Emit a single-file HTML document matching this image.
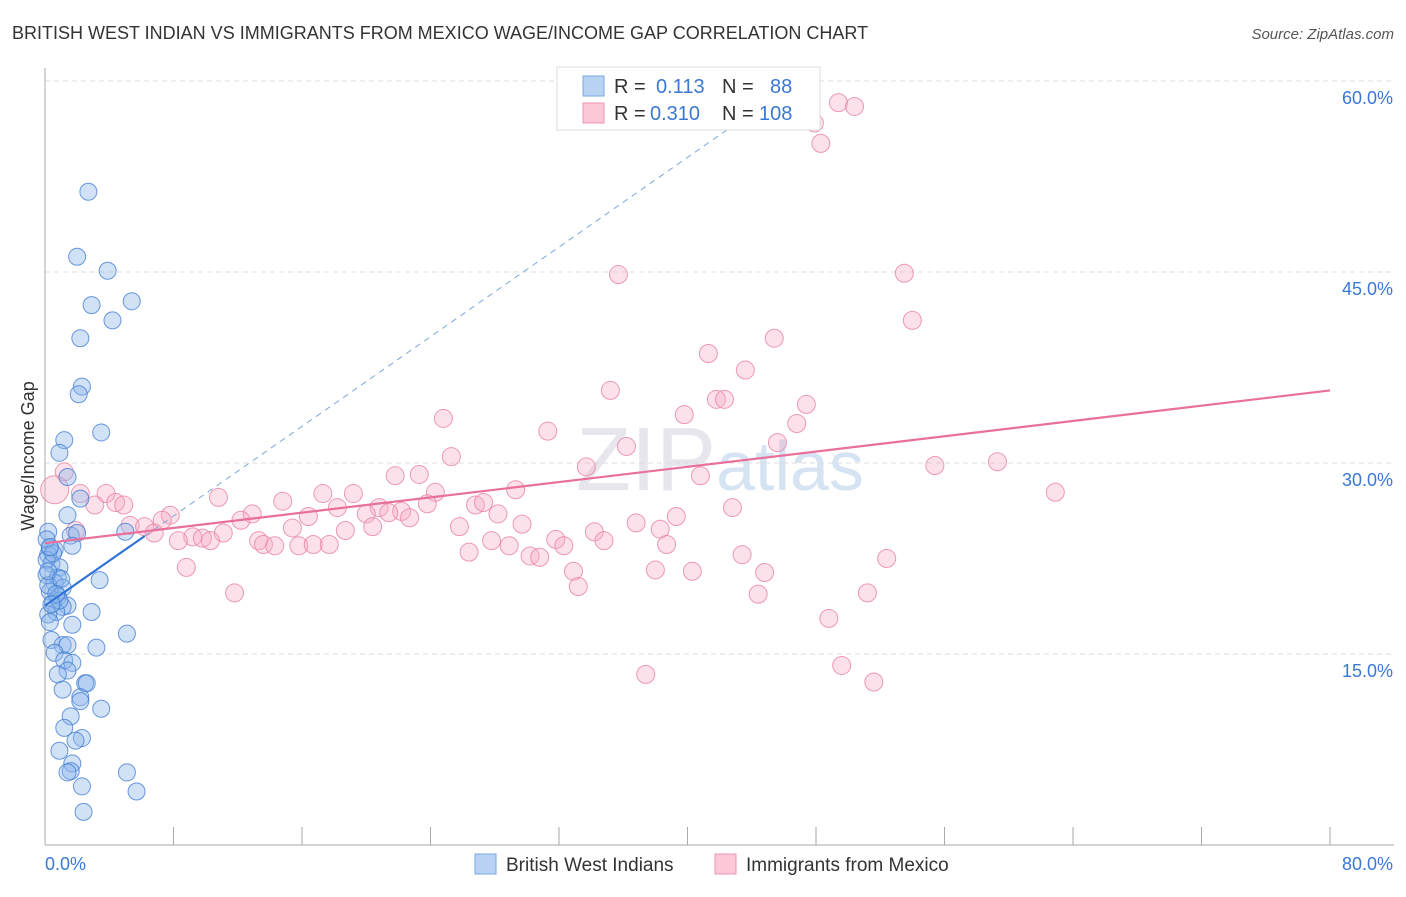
<!DOCTYPE html>
<html><head><meta charset="utf-8"><style>
body{margin:0;background:#fff;font-family:"Liberation Sans",sans-serif;}
svg text{font-family:"Liberation Sans",sans-serif;}
</style></head><body>
<svg id="chart" width="1406" height="892" viewBox="0 0 1406 892" xmlns="http://www.w3.org/2000/svg">
<rect width="1406" height="892" fill="#fff"/>
<text x="12" y="39" font-size="18" fill="#333">BRITISH WEST INDIAN VS IMMIGRANTS FROM MEXICO WAGE/INCOME GAP CORRELATION CHART</text>
<text x="1394" y="39" font-size="15" fill="#555" text-anchor="end" font-style="italic">Source: ZipAtlas.com</text>
<text x="720" y="490" font-size="90" fill="#e6e6ec" text-anchor="middle" font-family="Liberation Serif">ZIP<tspan fill="#d5e3f3" font-family="Liberation Sans" font-size="70">atlas</tspan></text>
<g id="grid"></g>
<g id="axes"></g>
<g id="points"></g>
<g id="lines"></g>
<text transform="translate(34,456) rotate(-90)" font-size="18" fill="#333" text-anchor="middle">Wage/Income Gap</text>
<g>
<rect x="557" y="67" width="263" height="63" fill="#fff" stroke="#ddd"/>
<rect x="583" y="76" width="21" height="20" fill="#b9d3f5" stroke="#7aa7e0"/>
<rect x="583" y="103" width="21" height="20" fill="#fcc8d8" stroke="#ee94b0"/>
<text x="614" y="93" font-size="20" fill="#333">R = </text><text x="656" y="93" font-size="20" fill="#3a78d4">0.113</text>
<text x="722" y="93" font-size="20" fill="#333">N = </text><text x="770" y="93" font-size="20" fill="#3a78d4">88</text>
<text x="614" y="120" font-size="20" fill="#333">R = </text><text x="650" y="120" font-size="20" fill="#3a78d4">0.310</text>
<text x="722" y="120" font-size="20" fill="#333">N = </text><text x="759" y="120" font-size="20" fill="#3a78d4">108</text>
</g>
<g>
<rect x="475" y="854" width="21" height="20" fill="#b9d3f5" stroke="#7aa7e0"/>
<text x="506" y="871" font-size="19" fill="#333">British West Indians</text>
<rect x="715" y="854" width="21" height="20" fill="#fcc8d8" stroke="#ee94b0"/>
<text x="746" y="871" font-size="19" fill="#333">Immigrants from Mexico</text>
</g>
</svg>
<script>
const yTicks=[15,30,45,60];
const xTickLabels=["0.0%","80.0%"];
const blueX=[2.7,2.0,3.9,2.9,5.4,4.2,2.2,2.3,2.1,3.5,1.2,0.9,1.4,2.2,1.4,1.6,2.0,5.0,0.2,1.7,0.3,0.6,0.2,0.4,0.9,3.4,0.8,0.6,1.1,0.3,0.8,0.5,1.4,1.1,2.9,0.7,0.2,1.7,5.1,0.4,1.1,3.2,1.4,0.6,1.2,1.7,1.4,0.8,2.5,2.6,1.1,2.2,2.2,3.5,1.6,1.2,2.3,1.9,0.9,1.7,1.6,5.1,1.4,2.3,5.7,2.4,0.1,0.1,0.1,0.2,0.9,0.3,0.5,0.3,0.2,1.0,0.7,0.4];
const blueY=[51.3,46.2,45.1,42.4,42.7,41.2,39.8,36.0,35.4,32.4,31.8,30.8,28.9,27.2,25.9,24.3,24.5,24.6,24.6,23.5,23.3,23.2,22.8,22.1,21.8,20.8,21.0,20.6,20.2,19.9,19.5,19.0,18.8,18.7,18.3,18.3,18.1,17.3,16.6,16.1,15.7,15.5,15.7,15.1,14.5,14.3,13.7,13.4,12.7,12.7,12.2,11.6,11.3,10.7,10.1,9.2,8.4,8.2,7.4,6.4,5.8,5.7,5.7,4.6,4.2,2.6,24.0,22.4,21.2,20.4,19.2,17.5,22.9,23.4,21.5,20.9,19.7,18.9];
const pinkX=[49.4,50.4,47.9,48.3,35.7,53.5,54.0,41.3,45.4,43.6,35.2,24.8,39.8,41.8,42.3,47.4,46.8,31.3,45.6,36.2,25.3,33.7,55.4,59.3,23.3,21.8,40.8,62.9,24.3,29.3,17.3,19.2,1.2,0.6,2.2,3.8,10.8,14.8,26.8,27.3,3.1,4.4,4.9,42.8,18.2,20.8,22.2,21.4,23.8,20.0,16.4,12.9,7.8,7.3,28.2,22.7,39.3,12.2,36.8,5.3,29.7,6.2,25.8,20.4,15.4,18.7,38.3,34.2,6.8,1.9,11.1,9.2,9.8,10.3,8.3,27.8,31.8,13.3,34.8,38.7,13.6,14.3,15.8,16.7,17.7,28.9,32.3,26.4,43.4,52.4,30.2,30.8,8.8,32.9,38.0,40.3,44.8,33.2,11.8,44.4,51.2,48.8,49.6,37.4,51.6];
const pinkY=[58.3,58.0,56.7,55.1,44.8,44.9,41.2,38.6,39.8,37.3,35.7,33.5,33.8,35.0,35.0,34.6,33.1,32.5,31.6,31.3,30.5,29.7,29.8,30.1,29.1,29.0,29.0,27.7,27.7,27.9,27.6,27.6,29.3,27.9,27.6,27.6,27.3,27.0,26.7,26.9,26.7,26.9,26.7,26.5,26.5,26.5,26.2,26.1,26.8,26.0,25.8,26.0,25.9,25.5,26.0,25.7,25.8,25.5,25.3,25.1,25.2,25.0,25.0,25.0,24.9,24.7,24.8,24.6,24.5,24.7,24.5,24.2,24.1,23.9,23.9,23.9,24.0,23.9,23.9,23.6,23.6,23.5,23.5,23.6,23.6,23.5,23.5,23.0,22.8,22.5,22.7,22.6,21.8,21.5,21.6,21.5,21.4,20.3,19.8,19.7,19.8,17.8,14.1,13.4,12.8];
const blueTrend=[18.8,0.88];
const pinkTrend=[23.7,0.15];
const NS="http://www.w3.org/2000/svg";
const X0=45,X1=1330,YB=845;
function sx(v){return X0+v/80*(X1-X0);}
function sy(v){return YB-v/15*191;}
function mk(tag,attrs,parent){const e=document.createElementNS(NS,tag);for(const k in attrs)e.setAttribute(k,attrs[k]);parent.appendChild(e);return e;}
const grid=document.getElementById('grid'),axes=document.getElementById('axes'),pts=document.getElementById('points'),lines=document.getElementById('lines');
yTicks.forEach(t=>{
 const l=mk('line',{x1:X0,x2:1394,y1:sy(t),y2:sy(t),stroke:'#dcdcdc','stroke-dasharray':'5,4'},grid);
 
 
 const tx=mk('text',{x:1393,y:sy(t)+23,'font-size':18,fill:'#3a78d4','text-anchor':'end'},axes);
 tx.textContent=t.toFixed(1)+'%';
 
 
});
const ax=mk('line',{x1:X0,x2:X0,y1:68,y2:YB,stroke:'#aaa'},axes);


const bx=mk('line',{x1:X0,x2:1394,y1:YB,y2:YB,stroke:'#aaa'},axes);


for(let i=1;i<=10;i++){const v=i*8;if(v>80)break;}
for(let i=1;i<=10;i++){
 const v=i*8; if(v>80) break;
 const t=mk('line',{x1:sx(v),x2:sx(v),y1:YB-18,y2:YB,stroke:'#aaa'},axes);
 
 
}
[[0,'start',45],[80,'end',1393]].forEach((d,i)=>{
 const tx=mk('text',{x:d[2],y:870,'font-size':18,fill:'#3a78d4','text-anchor':d[1]},axes);
 tx.textContent=xTickLabels[i];
 
 
});
pinkX.forEach((x,i)=>{
 const r=(i===33)?14:9;
 const c=mk('circle',{cx:sx(x),cy:sy(pinkY[i]),r:r,fill:'rgba(246,168,194,0.35)',stroke:'rgba(232,130,165,0.8)','stroke-width':1},pts);
 
 
});
blueX.forEach((x,i)=>{
 const c=mk('circle',{cx:sx(x),cy:sy(blueY[i]),r:8.5,fill:'rgba(140,182,236,0.4)',stroke:'rgba(60,120,210,0.75)','stroke-width':1},pts);
 
 
});
const bf=v=>blueTrend[0]+blueTrend[1]*v, pf=v=>pinkTrend[0]+pinkTrend[1]*v;
const bd=mk('line',{x1:sx(6.2),y1:sy(bf(6.2)),x2:sx(47.8),y2:sy(bf(47.8)),stroke:'#7aa7e0','stroke-width':1,'stroke-dasharray':'6,5'},lines);


const bs=mk('line',{x1:sx(0),y1:sy(bf(0)),x2:sx(6.2),y2:sy(bf(6.2)),stroke:'#2f73d8','stroke-width':2.2},lines);


const ps=mk('line',{x1:sx(0),y1:sy(pf(0)),x2:sx(80),y2:sy(pf(80)),stroke:'#e8709a','stroke-width':2.2},lines);


</script>
</body></html>
